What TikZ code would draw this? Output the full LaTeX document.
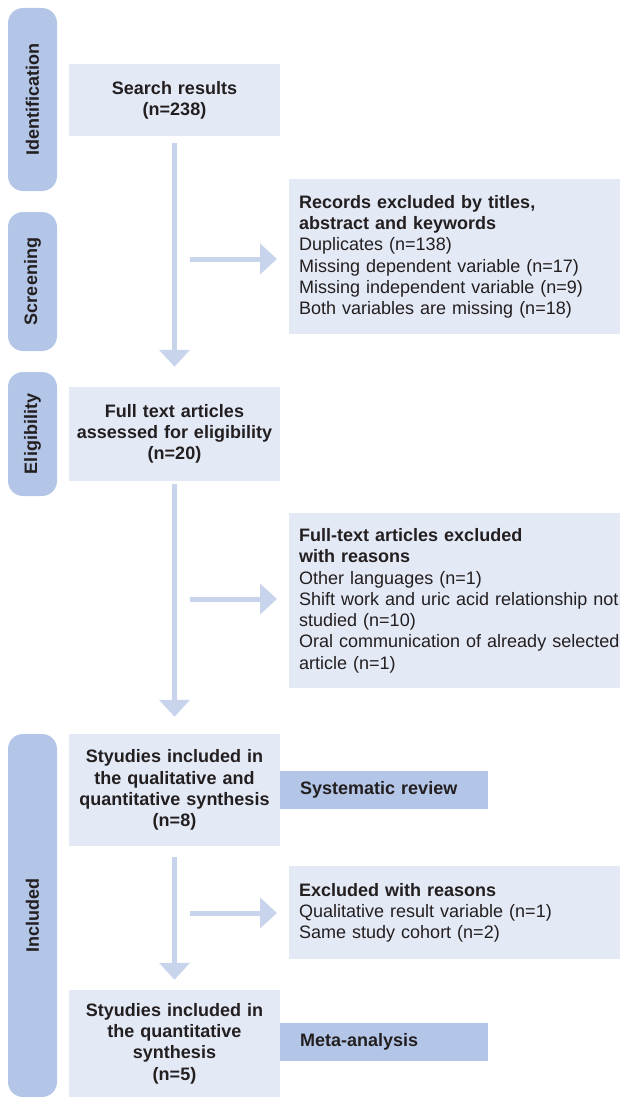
\documentclass[tikz,border=0pt]{standalone}
\usepackage{fontspec}
\setmainfont{Liberation Sans}
\usetikzlibrary{arrows.meta}
\definecolor{sidec}{RGB}{180,198,231}
\definecolor{boxc}{RGB}{227,233,245}
\definecolor{arrc}{RGB}{200,212,236}
\definecolor{txtc}{RGB}{35,31,32}
\tikzset{
  x=1pt, y=-1pt,
  base/.style={font=\fontsize{18}{21.3}\selectfont, text=txtc, inner sep=0pt},
  side/.style={base, fill=sidec, rounded corners=15pt, minimum width=49pt, font=\fontsize{18}{21.3}\selectfont\bfseries},
  cbox/.style={base, fill=boxc, minimum width=211pt, align=center, text width=201pt, font=\fontsize{18}{21.3}\selectfont\bfseries},
  rbox/.style={base, fill=boxc, anchor=north west, align=left, inner xsep=10pt, text width=345pt},
  dbox/.style={base, fill=sidec, anchor=west, align=left, inner xsep=20pt, text width=168pt, minimum height=38pt},
  flow/.style={draw=arrc, line width=5pt, -{Triangle[width=30pt,length=17pt]}},
}
\begin{document}
\begin{tikzpicture}
\useasboundingbox (0,0) rectangle (620,1097);
\clip (0,0) rectangle (620,1097);
% phase bars
\node[side, minimum height=183pt] (pid) at (32.5,99.5) {\rotatebox{90}{Identification}};
\node[side, minimum height=139pt] (pscr) at (32.5,281.5) {\rotatebox{90}{Screening}};
\node[side, minimum height=124pt] (pelig) at (32.5,434) {\rotatebox{90}{Eligibility}};
\node[side, minimum height=363pt] (pinc) at (32.5,915.5) {\rotatebox{90}{Included}};
% main column
\node[cbox, minimum height=72pt] (search) at (174.5,100) {Search results\\(n=238)};
\node[cbox, minimum height=94pt] (full) at (174.5,434) {Full text articles\\assessed for eligibility\\(n=20)};
\node[cbox, minimum height=112pt] (stud1) at (174.5,790) {Styudies included in\\the qualitative and\\quantitative synthesis\\(n=8)};
\node[cbox, minimum height=107pt] (stud2) at (174.5,1043.5) {Styudies included in\\the quantitative\\synthesis\\(n=5)};
% side boxes
\node[dbox] (sysrev) at (280,790) {\textbf{Systematic review}};
\node[dbox] (meta) at (280,1042) {\textbf{Meta-analysis}};
% exclusion boxes
\node[rbox, minimum height=155pt] (rec) at (289,179) {\textbf{Records excluded by titles,}\\\textbf{abstract and keywords}\\Duplicates (n=138)\\Missing dependent variable (n=17)\\Missing independent variable (n=9)\\Both variables are missing (n=18)};
\node[rbox, minimum height=175pt] (ftex) at (289,513) {\textbf{Full-text articles excluded}\\\textbf{with reasons}\\Other languages (n=1)\\Shift work and uric acid relationship not\\studied (n=10)\\Oral communication of already selected\\article (n=1)};
\node[rbox, minimum height=93pt] (exc) at (289,866) {\textbf{Excluded with reasons}\\Qualitative result variable (n=1)\\Same study cohort (n=2)};
% vertical arrows
\draw[flow, shorten <=7pt, shorten >=20pt] (search.south) -- (full.north);
\draw[flow, shorten <=3pt, shorten >=17pt] (full.south) -- (stud1.north);
\draw[flow, shorten <=11pt, shorten >=10pt] (stud1.south) -- (stud2.north);
% horizontal arrows
\coordinate (h1) at (190,259);
\coordinate (h2) at (190,599);
\coordinate (h3) at (190,913);
\draw[flow, shorten >=12pt] (h1) -- (h1 -| rec.west);
\draw[flow, shorten >=12pt] (h2) -- (h2 -| ftex.west);
\draw[flow, shorten >=12pt] (h3) -- (h3 -| exc.west);
\end{tikzpicture}
\end{document}
